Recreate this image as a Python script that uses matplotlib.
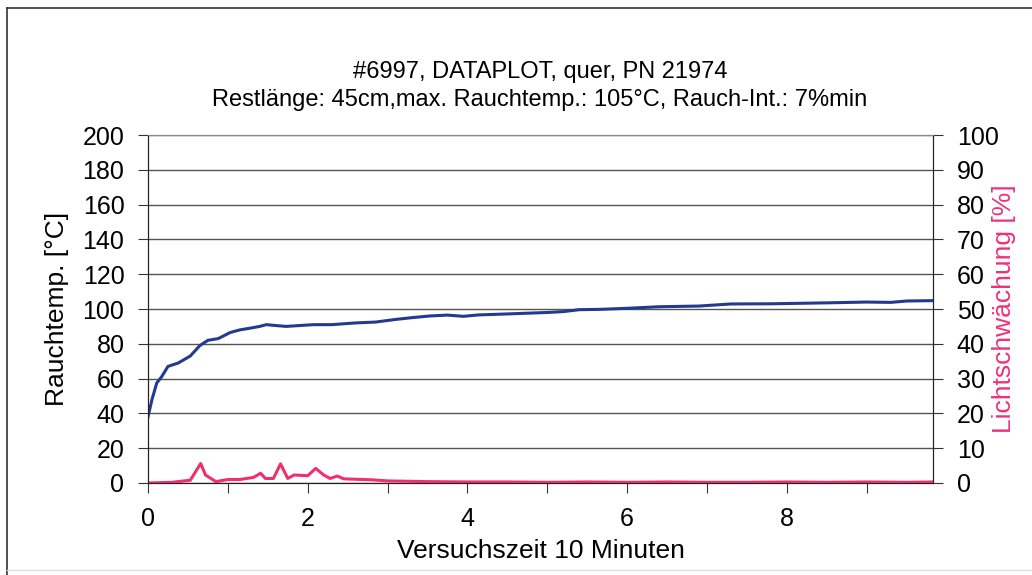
import matplotlib.pyplot as plt
from matplotlib.lines import Line2D

plt.rcParams['font.family'] = ['Liberation Sans', 'DejaVu Sans']

# Rauchtemperatur [°C] over time [min]
t_temp = [0, 0.05, 0.11, 0.17, 0.25, 0.38, 0.53, 0.65, 0.75, 0.88, 1.03, 1.15,
          1.28, 1.4, 1.48, 1.6, 1.73, 1.9, 2.07, 2.3, 2.6, 2.85, 3.1, 3.3, 3.53,
          3.75, 3.95, 4.14, 4.4, 4.7, 5.0, 5.2, 5.4, 5.66, 6.0, 6.4, 6.9, 7.3,
          7.8, 8.2, 8.57, 9.0, 9.3, 9.5, 9.83]
temp = [38, 48, 57.5, 61, 67, 69, 73, 79, 82, 83, 86.5, 88,
        89, 90, 91, 90.5, 90, 90.5, 91, 91, 92, 92.5, 94, 95, 96,
        96.5, 95.8, 96.6, 97, 97.5, 98, 98.5, 99.6, 99.8, 100.4, 101.3, 101.7, 102.9,
        103, 103.3, 103.6, 104, 103.8, 104.6, 104.8]

# Lichtschwächung [%]
t_light = [0, 0.3, 0.53, 0.66, 0.72, 0.85, 1.0, 1.15, 1.32, 1.41, 1.47, 1.57,
           1.66, 1.75, 1.83, 2.0, 2.1, 2.2, 2.28, 2.37, 2.45, 2.82, 3.0, 3.5,
           4.0, 4.5, 5.0, 5.5, 6.0, 6.5, 7.0, 7.5, 8.0, 8.5, 9.0, 9.5, 9.83]
light = [0, 0.2, 0.8, 5.6, 2.3, 0.4, 1.0, 1.0, 1.6, 2.8, 1.3, 1.3,
         5.5, 1.3, 2.3, 2.1, 4.2, 2.3, 1.3, 2.0, 1.2, 0.9, 0.6, 0.4,
         0.3, 0.3, 0.2, 0.3, 0.2, 0.3, 0.2, 0.2, 0.3, 0.2, 0.3, 0.2, 0.3]

fig = plt.figure(figsize=(10.32, 5.75), dpi=100)
ax = fig.add_axes([0.1434, 0.16, 0.7607, 0.6052])
ax2 = ax.twinx()

ax.plot(t_temp, temp, color='#233a8f', lw=2.2)
ax2.plot(t_light, light, color='#f0306e', lw=2.2)

ax.set_xlim(0, 9.83)
ax.set_ylim(0, 200)
ax2.set_ylim(0, 100)
ax.set_yticks(range(0, 201, 20))
ax2.set_yticks(range(0, 101, 10))
ax.set_xticks(range(0, 10, 1))
ax.set_xticklabels(['0', '', '2', '', '4', '', '6', '', '8', ''])

ax.grid(axis='y', color='#555555', lw=1)
ax.set_axisbelow(True)
ax.tick_params(labelsize=18, length=7, color='#333333', direction='out', pad=10)
ax2.tick_params(labelsize=18, length=7, color='#333333', direction='out', pad=10)

for a in (ax, ax2):
    a.spines['top'].set_color('#888888')
    a.spines['left'].set_color('#222222')
    a.spines['right'].set_color('#222222')
    a.spines['bottom'].set_color('#222222')

ax.set_ylabel('Rauchtemp. [°C]', fontsize=19, labelpad=10)
ax2.set_ylabel('Lichtschwächung [%]', fontsize=19, color='#f0307a', labelpad=-5)
ax.set_xlabel('Versuchszeit 10 Minuten', fontsize=19, labelpad=6)

fig.text(0.5233, 1 - 72 / 575, '#6997, DATAPLOT, quer, PN 21974', ha='center', va='center', fontsize=17)
fig.text(0.5233, 1 - 100 / 575, 'Restlänge: 45cm,max. Rauchtemp.: 105°C, Rauch-Int.: 7%min',
         ha='center', va='center', fontsize=17)

# outer frame of the scanned chart
fig.add_artist(Line2D([7 / 1032, 7 / 1032], [0, 1 - 8 / 575], color='#333333', lw=1.2))
fig.add_artist(Line2D([7 / 1032, 1], [1 - 8 / 575, 1 - 8 / 575], color='#333333', lw=1.2))
fig.add_artist(Line2D([7 / 1032, 1], [1 - 570 / 575, 1 - 570 / 575], color='#dddddd', lw=1))

plt.savefig('out.png', dpi=100)
